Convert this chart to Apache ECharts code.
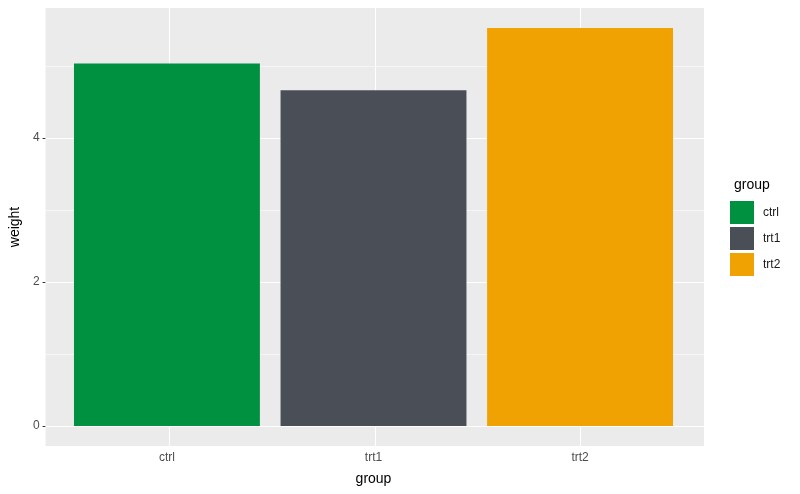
<!DOCTYPE html>
<html>
<head>
<meta charset="utf-8">
<script src="https://cdn.jsdelivr.net/npm/echarts@6/dist/echarts.min.js"></script>
<style>
  html, body { margin: 0; padding: 0; background: #fff; }
  #chart { width: 800px; height: 494px; }
</style>
</head>
<body>
<div id="chart"></div>
<script>
// data
const groups = ['ctrl', 'trt1', 'trt2'];
const weights = [5.032, 4.661, 5.526];
const colors = ['#009140', '#4A4F57', '#F0A202'];
const yTicks = [0, 2, 4];
const yMinor = [1, 3, 5];

// ggplot-ish expanded limits
const yMin = -0.05 * Math.max(...weights);
const yMax = Math.max(...weights) * 1.05;

const chart = echarts.init(document.getElementById('chart'), null, { renderer: 'canvas' });

// panel: 43..704 x, 8..446 y ; discrete expansion 0.6 each side
const panelL = 43, panelR = 800 - 704, panelT = 8, panelB = 494 - 446;
const unit = (704 - 43) / (groups.length - 1 + 1.2);
const inset = 0.1 * unit;

const gridLines = [];
yTicks.forEach(v => gridLines.push({ yAxis: v, lineStyle: { width: 1.1 } }));
yMinor.forEach(v => gridLines.push({ yAxis: v, lineStyle: { width: 0.5 } }));
groups.forEach((g, i) => gridLines.push({ xAxis: i + 1, lineStyle: { width: 1.1 } }));

const barSeries = groups.map((g, i) => ({
  name: g,
  type: 'bar',
  xAxisIndex: 1,
  yAxisIndex: 1,
  barWidth: '90%',
  barGap: '-100%',
  z: 10,
  itemStyle: { color: colors[i] },
  data: groups.map((_, j) => (j === i ? weights[i] : '-'))
}));

const option = {
  animation: false,
  textStyle: { fontFamily: 'Liberation Sans, Arial, sans-serif' },
  title: {
    text: 'group',
    left: 729,
    top: 173,
    textStyle: { fontSize: 14, fontWeight: 'normal', color: '#000' }
  },
  legend: {
    data: groups,
    orient: 'vertical',
    left: 730,
    top: 201,
    icon: 'rect',
    itemWidth: 24,
    itemHeight: 23,
    itemGap: 3,
    padding: 0,
    textStyle: { fontSize: 12, color: '#1a1a1a', padding: [0, 0, 0, 4] }
  },
  grid: [
    { left: panelL, right: panelR, top: panelT, bottom: panelB, show: true, backgroundColor: '#EBEBEB', borderWidth: 0 },
    { left: panelL + inset, right: panelR + inset, top: panelT, bottom: panelB }
  ],
  xAxis: [
    { type: 'value', gridIndex: 0, min: 0.4, max: groups.length + 0.6, show: false },
    {
      type: 'category', gridIndex: 1, data: groups,
      axisLine: { show: false },
      axisTick: { alignWithLabel: true, length: 3, lineStyle: { color: '#333' } },
      axisLabel: { color: '#4D4D4D', fontSize: 12, margin: 6 },
      name: 'group', nameLocation: 'middle', nameGap: 26,
      nameTextStyle: { color: '#000', fontSize: 14 },
      splitLine: { show: false }
    }
  ],
  yAxis: [
    {
      type: 'value', gridIndex: 0, min: yMin, max: yMax,
      axisLine: { show: false },
      axisTick: { show: true, length: 3, customValues: yTicks, lineStyle: { color: '#333' } },
      axisLabel: { customValues: yTicks, color: '#4D4D4D', fontSize: 12, margin: 6 },
      splitLine: { show: false },
      name: 'weight', nameLocation: 'middle', nameGap: 19, nameRotate: 90,
      nameTextStyle: { color: '#000', fontSize: 14 }
    },
    { type: 'value', gridIndex: 1, min: yMin, max: yMax, show: false }
  ],
  series: [
    {
      type: 'line',
      xAxisIndex: 0,
      yAxisIndex: 0,
      data: [[1, 0]],
      showSymbol: false,
      lineStyle: { opacity: 0 },
      silent: true,
      z: 1,
      markLine: {
        silent: true,
        z: 1,
        symbol: 'none',
        label: { show: false },
        lineStyle: { color: '#fff', type: 'solid' },
        data: gridLines
      }
    },
    ...barSeries
  ]
};

chart.setOption(option);
</script>
</body>
</html>
